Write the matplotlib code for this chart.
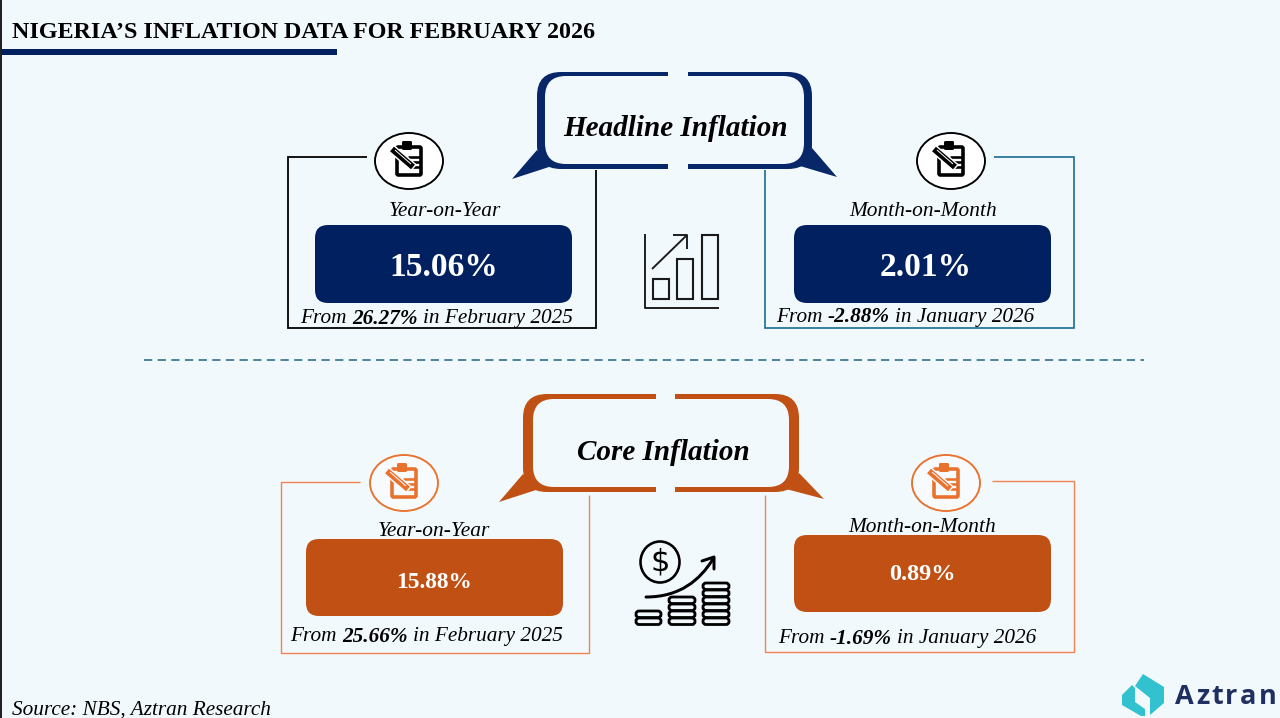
import matplotlib
matplotlib.use("Agg")
import matplotlib.pyplot as plt
from matplotlib.patches import FancyBboxPatch, Polygon, Ellipse, Rectangle
from matplotlib.path import Path
from matplotlib.patches import PathPatch

title = "NIGERIA\u2019S INFLATION DATA FOR FEBRUARY 2026"
source = "Source: NBS, Aztran Research"
group_names = ["Headline Inflation", "Core Inflation"]
period_names = ["Year-on-Year", "Month-on-Month"]
headline_values = ["15.06%", "2.01%"]
core_values = ["15.88%", "0.89%"]
headline_prior = ["26.27%", "-2.88%"]
core_prior = ["25.66%", "-1.69%"]
prior_periods = ["in February 2025", "in January 2026"]
brand = "Aztran"

BG = "#F2F9FD"; NAVY = "#002060"; RUST = "#C05014"; ORANGE = "#F08552"; TEAL = "#1F6F8F"
SERIF = "Liberation Serif"

fig = plt.figure(figsize=(12.8, 7.18), dpi=100, facecolor=BG)
ax = fig.add_axes([0, 0, 1, 1])
ax.set_xlim(0, 1280); ax.set_ylim(718, 0); ax.axis("off")
px = 0.72

def rrect(x0, y0, x1, y1, r, fc, ec="none", lw=0, z=2):
    p = FancyBboxPatch((x0 + r, y0 + r), x1 - x0 - 2 * r, y1 - y0 - 2 * r,
                       boxstyle=f"round,pad={r},rounding_size={r}", fc=fc, ec=ec, lw=lw, zorder=z)
    ax.add_patch(p)
    return p

def line(xs, ys, c, w, z=2, **kw):
    ax.plot(xs, ys, color=c, lw=w * px, zorder=z, solid_capstyle=kw.pop("cap", "butt"), **kw)

def mixed(cx, y, parts, size):
    r = fig.canvas.get_renderer()
    items = []
    total = 0
    for s, w in parts:
        t = ax.text(0, y, s + " ", family=SERIF, style="italic", weight=w, fontsize=size,
                    ha="left", va="center_baseline", color="black", zorder=6)
        wd = t.get_window_extent(r).width
        t.set_text(s)
        items.append((t, wd))
        total += wd
    x = cx - total / 2
    for t, wd in items:
        t.set_x(x)
        x += wd

def bubble(o, i, gap, tails, color):
    rrect(o[0], o[1], o[2], o[3], 24, color, z=3)
    rrect(i[0], i[1], i[2], i[3], 21, BG, z=4)
    ax.add_patch(Rectangle((gap[0], o[1] - 1), gap[1] - gap[0], o[3] - o[1] + 2, fc=BG, ec="none", zorder=4))
    for t in tails:
        ax.add_patch(Polygon(t, closed=True, fc=color, ec="none", zorder=3))

def clipboard(cx, cy, rx, ry, color, face):
    ax.add_patch(Ellipse((cx, cy), 2 * rx, 2 * ry, fc=face, ec=color, lw=1.9 * px, zorder=5))
    rrect(cx - 12, cy - 14, cx + 12, cy + 14, 1.5, face, ec=color, lw=3.6 * px, z=6)
    rrect(cx - 7, cy - 20, cx + 3, cy - 11, 1.5, color, z=6)
    for dy in (-4, 1, 6):
        line([cx - 1, cx + 11], [cy + dy, cy + dy], color, 2.6, z=6)
    line([cx - 17, cx + 5], [cy - 12, cy + 7], face, 9, z=7)
    line([cx - 17, cx + 4], [cy - 12, cy + 6], color, 6, z=8)
    line([cx - 14, cx + 2], [cy - 11, cy + 3], face, 1.0, z=9)

def frame(xs, ys, color, w):
    line(xs, ys, color, w, z=2, solid_joinstyle="miter")

# page furniture
line([1, 1], [0, 718], "#222222", 2)
ax.add_patch(Rectangle((2, 49), 335, 6, fc=NAVY, ec="none", zorder=2))
ax.text(12, 33, title, family=SERIF, weight="bold", fontsize=17.3, ha="left", va="center", color="black")
ax.text(12, 710, source, family=SERIF, style="italic", fontsize=15.3, ha="left", va="center", color="black")
line([144, 1144], [360, 360], "#1F5F7F", 1.5, linestyle=(0, (5.5, 3.6)))

# frames
frame([367, 288, 288, 596, 596], [157, 157, 328, 328, 170], "black", 1.8)
frame([765, 765, 1074, 1074, 994], [170, 328, 328, 157, 157], TEAL, 1.7)
frame([360, 281, 281, 589, 589], [482, 482, 653, 653, 495], ORANGE, 1.4)
frame([765, 765, 1074, 1074, 992], [495, 652, 652, 481, 481], ORANGE, 1.4)

# bubbles
bubble((537, 72, 812, 169), (545, 76, 804, 164), (668, 688),
       [[(512, 179), (537, 150), (549, 167)], [(837, 177), (812, 148), (800, 166)]], "#072768")
bubble((523, 394, 799, 492), (533, 399, 789, 487), (656, 675),
       [[(499, 502), (523, 474), (536, 490)], [(824, 499), (799, 473), (786, 489)]], RUST)
ax.text(676, 128, group_names[0], family=SERIF, style="italic", weight="bold", fontsize=21, ha="center", va="center", zorder=6)
ax.text(663, 453, group_names[1], family=SERIF, style="italic", weight="bold", fontsize=21, ha="center", va="center", zorder=6)

# icons in circles
clipboard(409, 161, 34, 28, "black", "white")
clipboard(951, 161, 34, 28, "black", "white")
clipboard(404, 483, 34, 28, "#E9722E", "#F8FBFD")
clipboard(946, 483, 34, 28, "#E9722E", "#F8FBFD")

# value cards
cards = [(315, 225, 572, 303, NAVY), (794, 225, 1051, 303, NAVY), (306, 539, 563, 616, RUST), (794, 535, 1051, 612, RUST)]
vals = headline_values + core_values
sizes = [24.1, 24.1, 16.8, 17.5]
val_x = [444, 926, 434.5, 922]
val_y = [267, 267, 582, 575]
for (x0, y0, x1, y1, c), v, s, vx, vy in zip(cards, vals, sizes, val_x, val_y):
    rrect(x0, y0, x1, y1, 13, c)
    ax.text(vx, vy, v, family=SERIF, weight="bold", fontsize=s, color="white",
            ha="center", va="center", zorder=6)

# period labels
label_pos = [(445, 212), (923.5, 212), (434, 532), (922, 527)]
for (x, y), s in zip(label_pos, period_names * 2):
    ax.text(x, y, s, family=SERIF, style="italic", fontsize=15.4, ha="center", va="center", zorder=6)

# prior values
prior = headline_prior + core_prior
prior_pos = [(439, 316), (908, 315), (429, 634), (910, 636)]
for (x, y), v, p in zip(prior_pos, prior, prior_periods * 2):
    mixed(x, y, [("From", "normal"), (v, "bold"), (p, "normal")], 15.3)

# bar-chart icon
ic = "#1A1A1A"
line([644.5, 644.5, 719], [234, 308, 308], ic, 1.9)
for x0, x1, y0 in [(653, 669, 279), (677, 693, 259), (702, 718, 235)]:
    ax.add_patch(Rectangle((x0, y0), x1 - x0, 299 - y0, fc="none", ec=ic, lw=2.1 * px, zorder=3))
line([652, 687], [269, 235], ic, 1.9)
line([673, 687, 687], [235, 235, 249], ic, 1.9)

# coin icon
ax.add_patch(Ellipse((660, 562), 39, 41, fc="none", ec="black", lw=2.6 * px, zorder=3))
ax.text(660, 562, "$", family="DejaVu Sans", fontsize=22, ha="center", va="center", color="black", zorder=3)
curve = Path([(646, 597), (680, 597), (700, 580), (713, 559)], [Path.MOVETO, Path.CURVE4, Path.CURVE4, Path.CURVE4])
ax.add_patch(PathPatch(curve, fc="none", ec="black", lw=3 * px, capstyle="round", zorder=3))
line([702, 714, 714], [561, 557, 569], "black", 3, cap="round")
for x0, x1, n in [(636, 661, 2), (669, 695, 4), (703, 729, 6)]:
    for k in range(n):
        y1 = 624.5 - k * 7
        rrect(x0, y1 - 6.5, x1, y1, 3, BG, ec="black", lw=2.8 * px, z=3)

# logo
LOGO = "#32C2CF"
ax.add_patch(Polygon([(1143, 674), (1164, 687), (1164, 703), (1150, 715), (1150, 698), (1135, 686)], closed=True, fc=LOGO, ec="none"))
ax.add_patch(Polygon([(1132, 685), (1135, 688), (1135, 702), (1145, 709), (1145, 716), (1141, 716), (1122, 705), (1122, 695)], closed=True, fc=LOGO, ec="none"))
r = fig.canvas.get_renderer()
bx = 1175
FS = 19.5
for ch in brand:
    t = ax.text(bx, 704, ch, family="Open Sans", weight="bold", fontsize=FS, color="#1F2F5F", ha="left", va="baseline")
    probe = ax.text(0, 0, ch + "|", family="Open Sans", weight="bold", fontsize=FS)
    bar = ax.text(0, 0, "|", family="Open Sans", weight="bold", fontsize=FS)
    adv = probe.get_window_extent(r).width - bar.get_window_extent(r).width
    probe.remove(); bar.remove()
    bx += adv + 2.2

fig.savefig("out.png", dpi=100, facecolor=BG)
